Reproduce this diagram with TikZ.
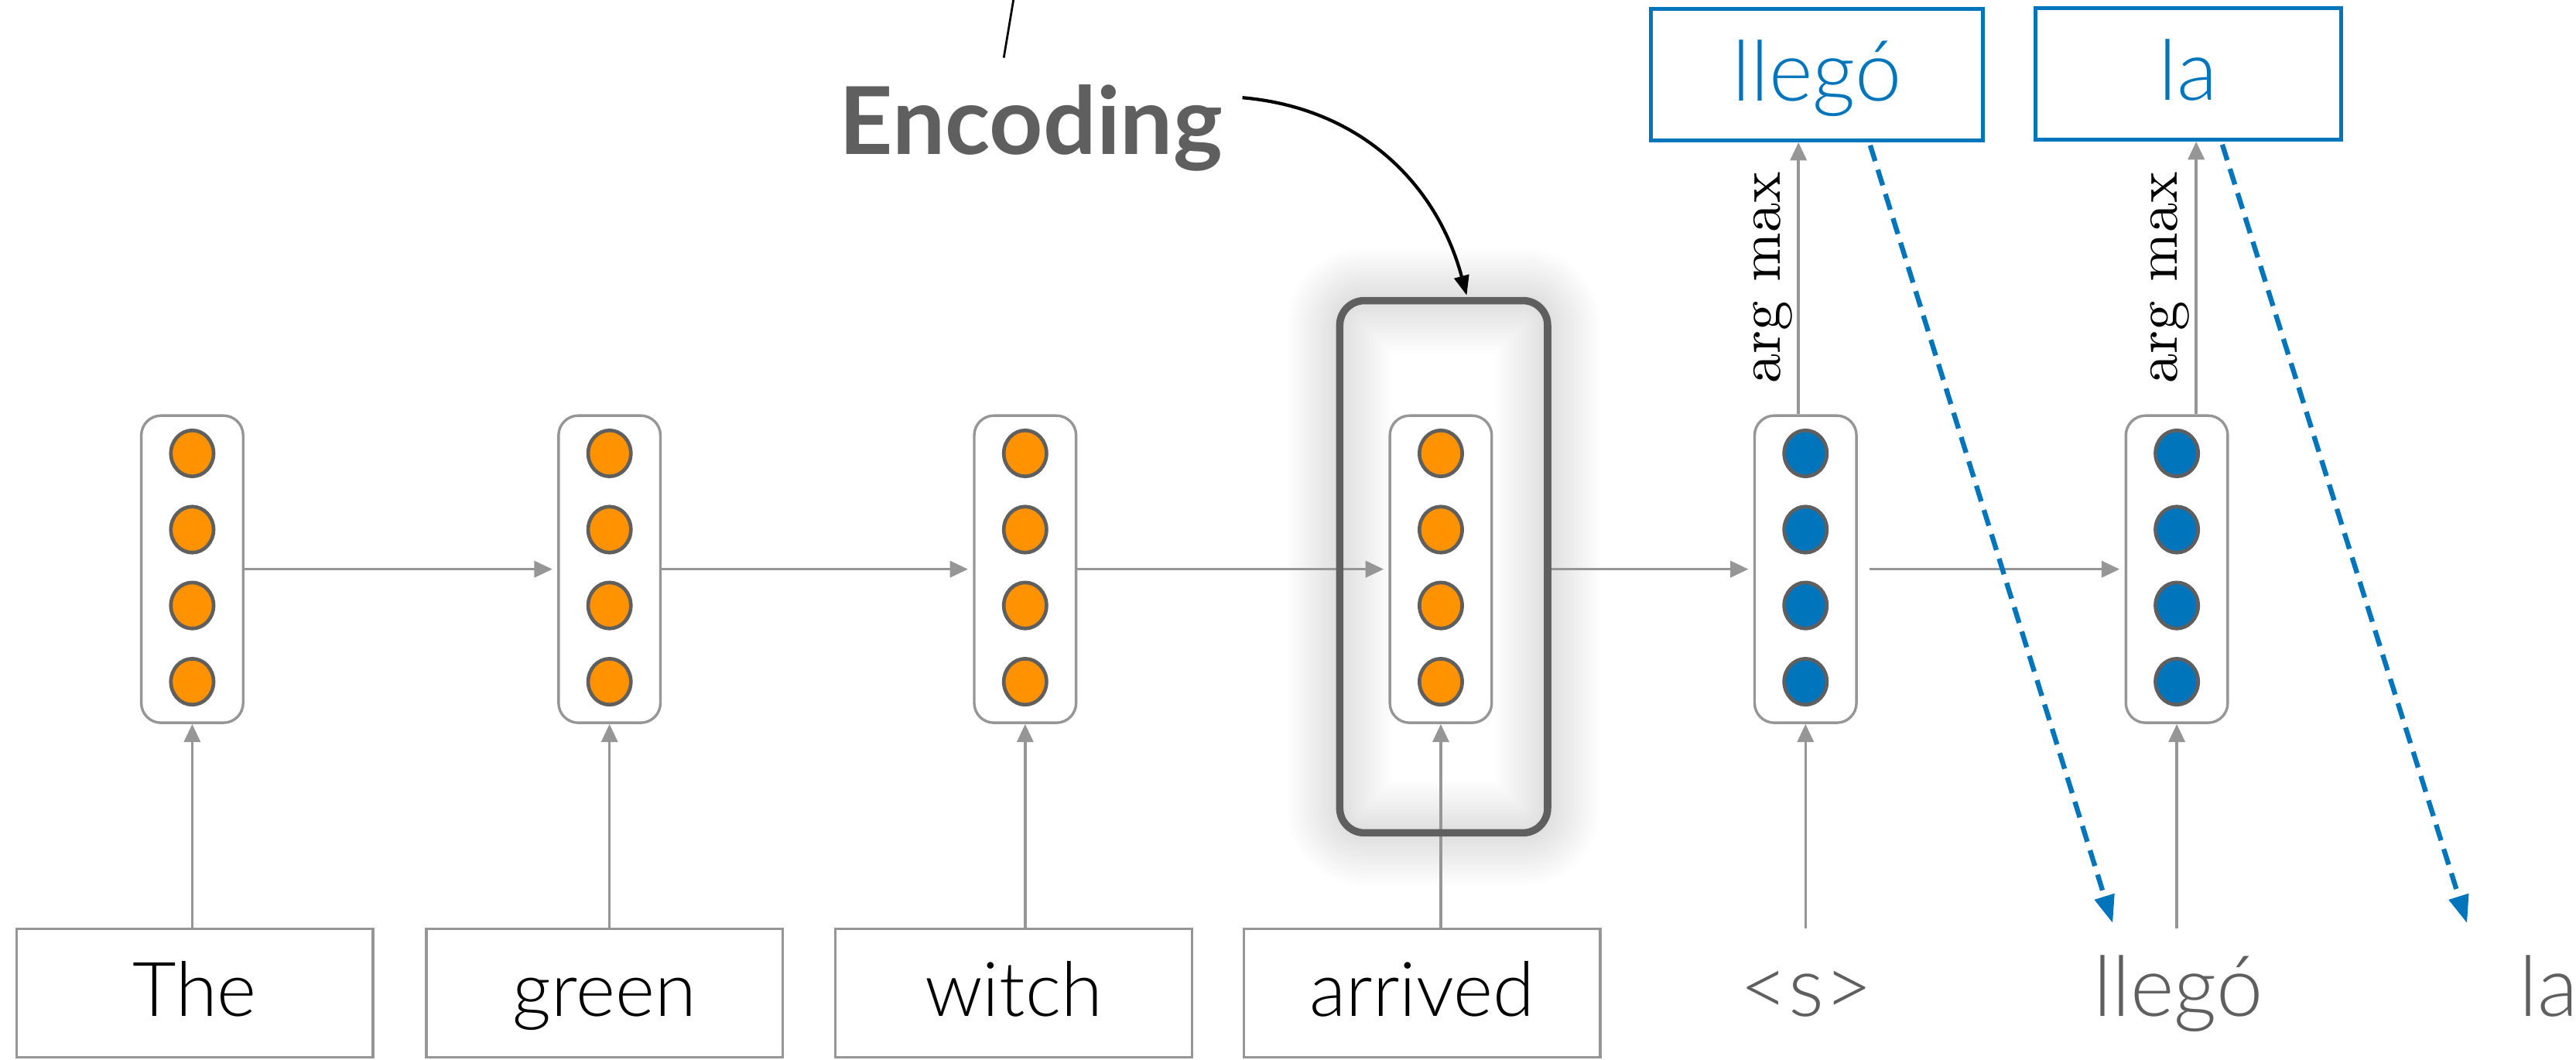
\documentclass[tikz,border=0pt]{standalone}
\usepackage{fontspec}
\newfontfamily\labelfont{Lato Light}
\newfontfamily\latofont{Lato}
\usetikzlibrary{arrows.meta,shapes.geometric}

\definecolor{unitorange}{HTML}{FF9200}
\definecolor{unitblue}{HTML}{0075BC}
\definecolor{edgegray}{HTML}{969696}
\definecolor{inkgray}{HTML}{5F5F5F}

\begin{document}
\begin{tikzpicture}[x=1pt, y=-1pt,
  cell/.style={rectangle, draw=edgegray, line width=1.6pt, rounded corners=12pt,
    fill=white, minimum width=62pt, minimum height=187pt, inner sep=0pt},
  unit/.style={ellipse, draw=inkgray, line width=2.2pt, minimum width=26pt,
    minimum height=28pt, inner sep=0pt},
  encunit/.style={unit, fill=unitorange},
  decunit/.style={unit, fill=unitblue},
  wordfont/.style={font=\labelfont\fontsize{46}{50}\selectfont,
    text height=34pt, text depth=6pt, inner sep=0pt},
  tokenfont/.style={wordfont, font=\labelfont\fontsize{51}{55}\selectfont},
  wordbox/.style={wordfont, draw=edgegray, line width=1.6pt,
    minimum width=217pt, minimum height=78pt},
  tokenslot/.style={tokenfont, text=inkgray, minimum width=100pt, minimum height=78pt},
  outbox/.style={tokenfont, draw=unitblue, text=unitblue, line width=2.4pt,
    minimum height=80pt, text height=36pt, text depth=4pt},
  flow/.style={draw=edgegray, line width=1.6pt, -{Triangle[length=11pt,width=10pt]}},
  feedback/.style={draw=unitblue, line width=3pt, dash pattern=on 10pt off 5.5pt,
    -{Triangle[length=17pt,width=12pt]}},
  hlframe/.style={rectangle, rounded corners=15pt, minimum width=126.5pt,
    minimum height=324pt, inner sep=0pt},
  opname/.style={rotate=90, anchor=base, font=\rmfamily\fontsize{10}{12}\selectfont,
    inner sep=0pt},
]
\useasboundingbox (0,0) rectangle (1568,645);

% soft glow around the highlighted encoder state
\foreach \w in {4,8,...,64}
  \node[hlframe, draw=black, draw opacity=0.009, line width=\w pt] at (878.75,345) {};
\node[hlframe] (hl) at (878.75,345) {};

% encoder states
\foreach \i/\x in {1/117,2/371,3/624,4/877}{
  \node[cell] (e\i) at (\x,346.5) {};
  \foreach \k/\y in {1/276,2/322.4,3/368.6,4/415}
    \node[encunit] (e\i-\k) at (\x,\y) {};
}
% decoder states
\foreach \i/\x in {1/1099,2/1325}{
  \node[cell] (d\i) at (\x,346.5) {};
  \foreach \k/\y in {1/276,2/322.4,3/368.6,4/415}
    \node[decunit] (d\i-\k) at (\x,\y) {};
}

% source words
\node[wordbox] (w1) at (118.5,604.5) {The};
\node[wordbox] (w2) at (368,604.5) {green};
\node[wordbox] (w3) at (617,604.5) {witch};
\node[wordbox] (w4) at (865.5,604.5) {arrived};

% decoder inputs
\node[tokenslot] (t1) at (1099.5,604.5) {<s>};
\node[tokenslot] (t2) at (1326,604.5) {llegó};
\node[tokenslot, minimum width=0pt, anchor=west] (t3) at (1533,604.5) {la};

% predicted words
\node[outbox, minimum width=202pt] (o1) at (1106,45.5) {llegó};
\node[outbox, minimum width=186pt] (o2) at (1332,45) {la};

% inputs into the states
\foreach \i in {1,...,4}
  \draw[flow] (e\i.south |- w\i.north) -- (e\i.south);
\draw[flow] (d1.south |- t1.north) -- (d1.south);
\draw[flow] (d2.south |- t2.north) -- (d2.south);

% recurrence
\draw[flow, shorten >=3pt] (e1.east) -- (e2.west);
\draw[flow, shorten >=3pt] (e2.east) -- (e3.west);
\draw[flow, shorten >=3pt] (e3.east) -- (e4.west);
\draw[flow, shorten >=3pt] (hl.east |- e4.east) -- (d1.west);
\draw[flow, shorten <=7pt, shorten >=3pt] (d1.east) -- (d2.west);

% arg max outputs
\draw[flow] ([xshift=-4.3pt]d1.north) -- ([xshift=-4.3pt]d1.north |- o1.south);
\draw[flow] ([xshift=11.8pt]d2.north) -- ([xshift=11.8pt]d2.north |- o2.south);
\node[opname] (am1) at (1083.4,169) {\scalebox{3.6}{arg max}};
\node[opname] (am2) at (1325,169) {\scalebox{3.6}{arg max}};

% predictions fed back as the next inputs
\draw[feedback] ([xshift=32.4pt,yshift=-1.8pt]o1.south) -- ([xshift=-40pt,yshift=3.3pt]t2.north);
\draw[feedback] ([xshift=20.7pt,yshift=-1.8pt]o2.south) -- ([xshift=-49.5pt,yshift=3.3pt]t3.north);

% highlighted final encoder state
\node[hlframe, draw=inkgray, line width=4.5pt] at (hl.center) {};

% label and pointer
\node[font=\latofont\bfseries\fontsize{57}{62}\selectfont, text=inkgray, anchor=base,
  inner sep=0pt] (enc) at (627.5,94) {Encoding};
\draw[line width=2pt, -{Triangle[length=12pt,width=9pt]}]
  ([xshift=12pt,yshift=-8pt]enc.north east) to[out=-5,in=105] ([xshift=14pt,yshift=3pt]hl.north);
\draw[line width=1.3pt] ([xshift=-16.5pt,yshift=16.3pt]enc.north) -- ++(7,-42);
\end{tikzpicture}
\end{document}
